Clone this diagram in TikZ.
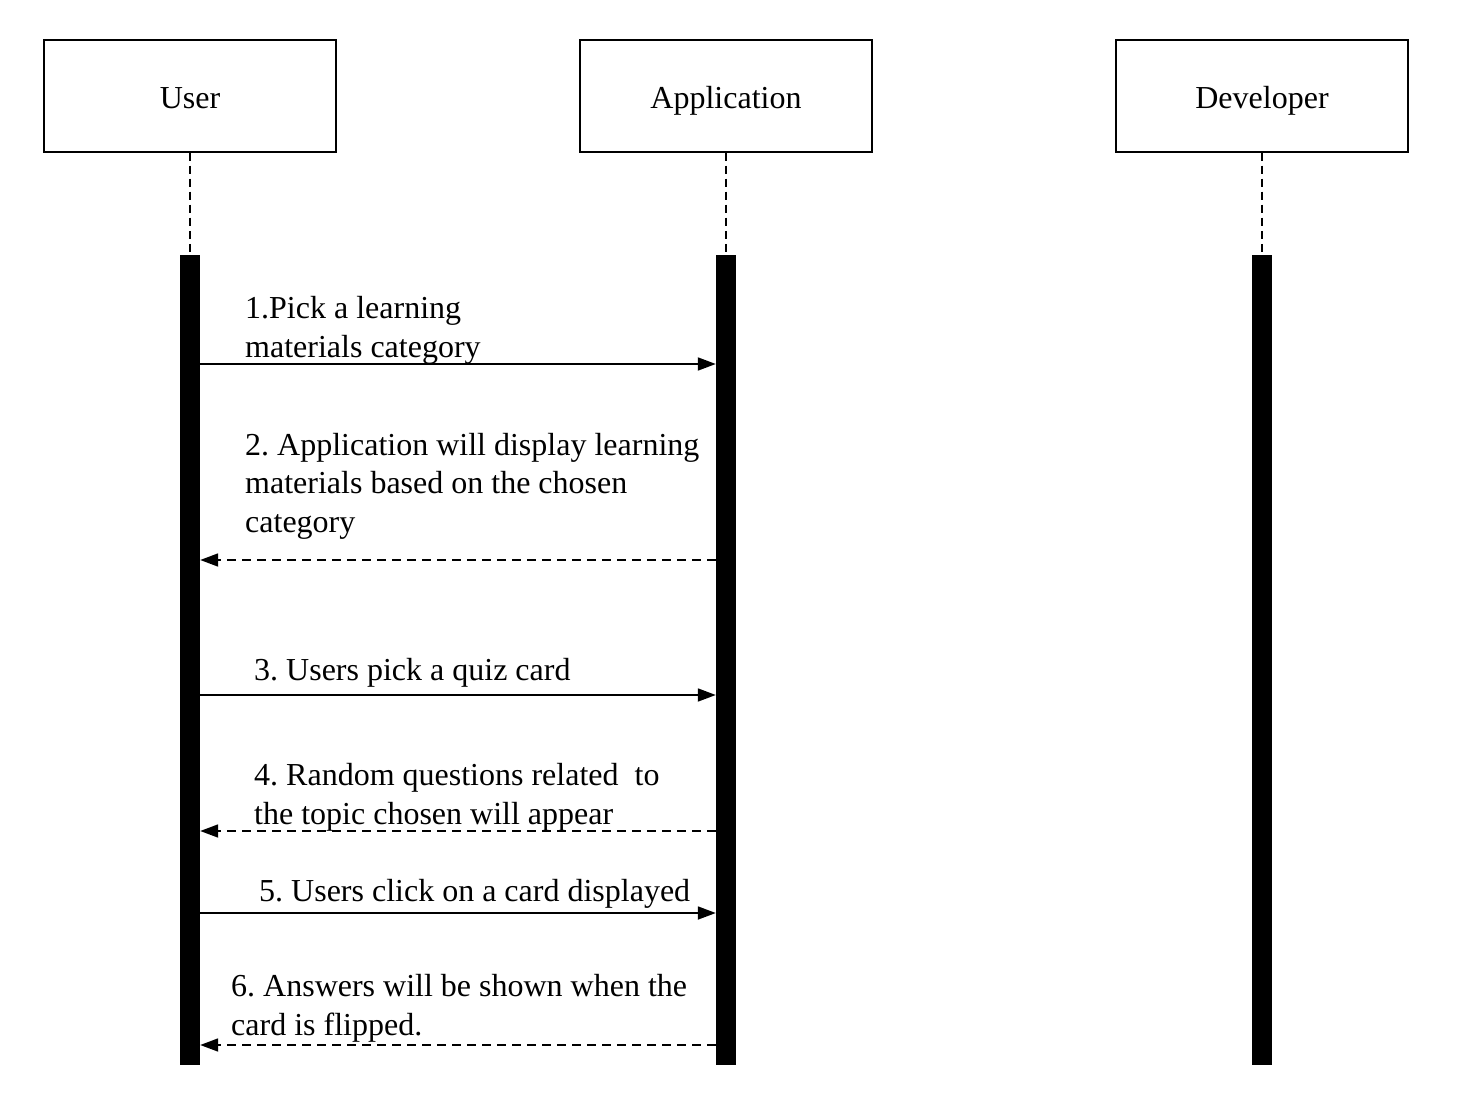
\documentclass[tikz,border=0pt]{standalone}
\usepackage{fontspec}
\setmainfont{Liberation Serif}
\frenchspacing
\usetikzlibrary{arrows.meta}
\tikzset{
  actor/.style={draw, line width=1.5pt, minimum width=292pt, minimum height=112pt, inner sep=0pt,
    text height=26pt, text depth=0pt, font=\fontsize{32}{38.5}\selectfont},
  bar/.style={fill=black, minimum width=20pt, minimum height=810pt, inner sep=0pt},
  life/.style={line width=1.3pt, dash pattern=on 8pt off 5pt},
  msg/.style={line width=1.8pt, -{Triangle[length=18pt,width=13pt]}},
  reply/.style={msg, dash pattern=on 9pt off 6pt},
  lbl/.style={align=left, inner sep=0pt, font=\fontsize{32}{38.5}\selectfont}
}
\begin{document}
\begin{tikzpicture}[x=1pt, y=-1pt]
    \useasboundingbox (0,0) rectangle (1480,1094);
    % \draw [help lines, step=100] (0,0) grid (1480,1094);

    % actors
    \node [actor] (user) at (190,96) {User};
    \node [actor] (app) at (726,96) {Application};
    \node [actor] (dev) at (1262,96) {Developer};

    % activation bars
    \node [bar] (ubar) at (190,660) {};
    \node [bar] (abar) at (726,660) {};
    \node [bar] (dbar) at (1262,660) {};

    \draw [life] (user.south) -- (ubar.north);
    \draw [life] (app.south) -- (abar.north);
    \draw [life] (dev.south) -- (dbar.north);

    % messages
    \coordinate (m1) at (0,364);
    \coordinate (m2) at (0,560);
    \coordinate (m3) at (0,695);
    \coordinate (m4) at (0,831);
    \coordinate (m5) at (0,913);
    \coordinate (m6) at (0,1045);

    \draw [msg] (ubar.east |- m1) -- (abar.west |- m1);
    \draw [reply] (abar.west |- m2) -- (ubar.east |- m2);
    \draw [msg] (ubar.east |- m3) -- (abar.west |- m3);
    \draw [reply] (abar.west |- m4) -- (ubar.east |- m4);
    \draw [msg] (ubar.east |- m5) -- (abar.west |- m5);
    \draw [reply] (abar.west |- m6) -- (ubar.east |- m6);

    % labels (base = last line)
    \node [lbl, anchor=base west] (t1) at (245,357) {1.Pick a learning\\materials category};
    \node [lbl, anchor=base west] (t2) at (245,532) {2. Application will display learning\\materials based on the chosen\\category};
    \node [lbl, anchor=base west] (t3) at (254,680) {3. Users pick a quiz card};
    \node [lbl, anchor=base west] (t4) at (254,824) {4. Random questions related\ \ to\\the topic chosen will appear};
    \node [lbl, anchor=base west] (t5) at (259,901) {5. Users click on a card displayed};
    \node [lbl, anchor=base west] (t6) at (231,1035) {6. Answers will be shown when the\\card is flipped.};

\end{tikzpicture}
\end{document}
